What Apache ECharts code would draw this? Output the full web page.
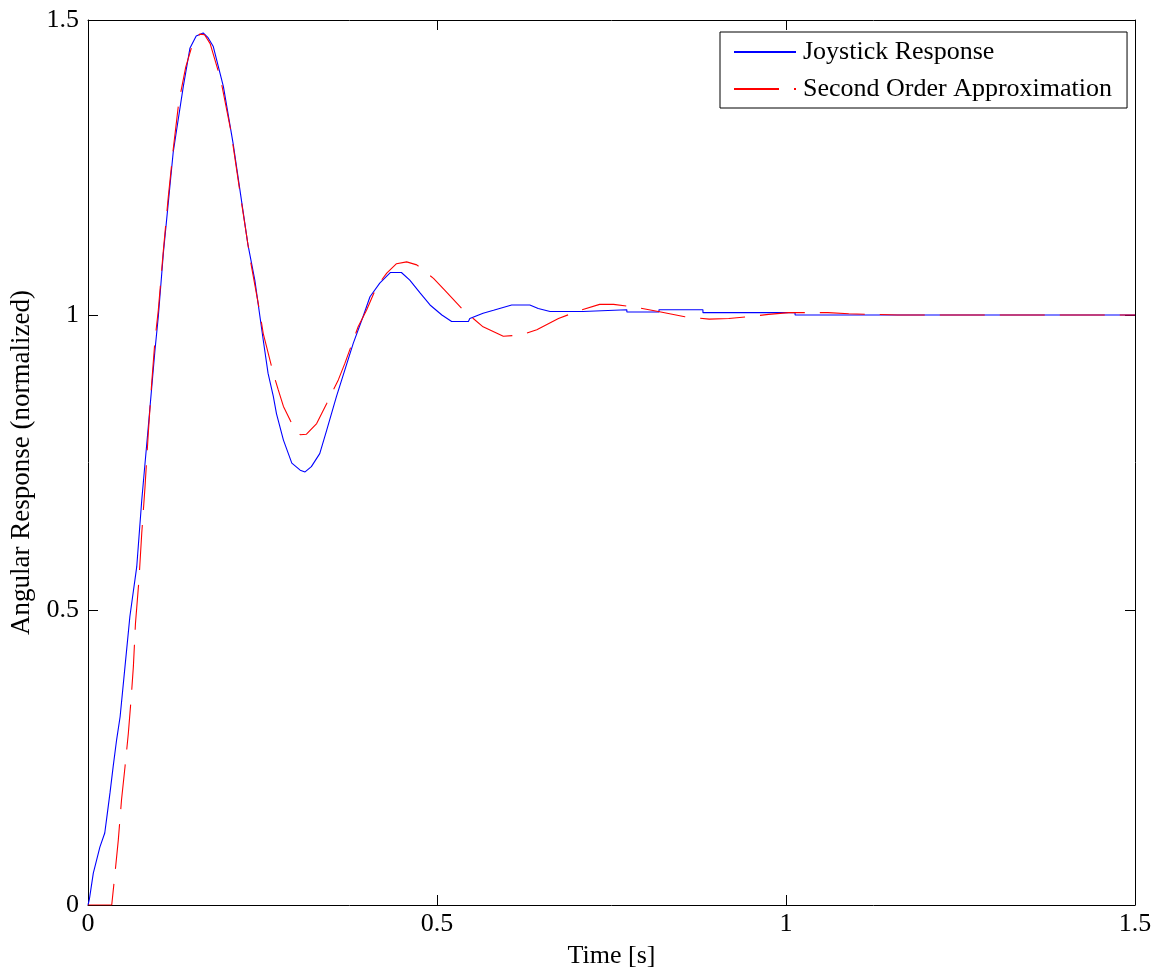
<!DOCTYPE html>
<html>
<head>
<meta charset="utf-8">
<script src="https://cdn.jsdelivr.net/npm/echarts@6/dist/echarts.min.js"></script>
<style>
  html, body { margin: 0; padding: 0; background: #fff; }
  #chart { width: 1160px; height: 977px; }
</style>
</head>
<body>
<div id="chart"></div>
<script>
// Step response of the joystick, normalized: [time (s), angle]
const joystickResponse = [
  [0, 0], [0.002, 0.01], [0.0076, 0.054], [0.017, 0.098], [0.024, 0.122], [0.027, 0.149],
  [0.0315, 0.19], [0.036, 0.234], [0.041, 0.28], [0.046, 0.319], [0.053, 0.404], [0.060, 0.489],
  [0.0698, 0.573], [0.077, 0.686], [0.0864, 0.811], [0.096, 0.941], [0.1007, 0.997], [0.108, 1.105],
  [0.115, 1.19], [0.122, 1.275], [0.127, 1.314], [0.1365, 1.387], [0.146, 1.452], [0.155, 1.473],
  [0.165, 1.478], [0.172, 1.47], [0.1795, 1.455], [0.194, 1.387], [0.208, 1.29], [0.2225, 1.173],
  [0.229, 1.12], [0.239, 1.059], [0.251, 0.958], [0.258, 0.901], [0.2655, 0.862], [0.270, 0.833],
  [0.28, 0.788], [0.292, 0.749], [0.304, 0.737], [0.311, 0.734], [0.320, 0.743], [0.332, 0.765],
  [0.342, 0.805], [0.356, 0.862], [0.368, 0.907], [0.380, 0.952], [0.394, 0.997], [0.404, 1.031],
  [0.418, 1.054], [0.433, 1.072], [0.449, 1.072], [0.461, 1.059], [0.476, 1.037], [0.490, 1.017],
  [0.507, 1.0], [0.521, 0.989], [0.545, 0.989], [0.547, 0.994], [0.566, 1.003], [0.581, 1.008],
  [0.607, 1.017], [0.633, 1.017], [0.645, 1.011], [0.662, 1.006], [0.709, 1.006], [0.709, 1.009],
  [0.772, 1.009], [0.772, 1.005], [0.818, 1.005], [0.818, 1.009], [0.881, 1.009], [0.881, 1.004],
  [1.013, 1.004], [1.013, 1.0], [1.5, 1.0]
];

// Fitted second order model with dead time: [time (s), angle]
const secondOrderApprox = [
  [0, 0], [0.034, 0], [0.0387, 0.054], [0.0434, 0.11], [0.048, 0.178], [0.053, 0.234],
  [0.0578, 0.291], [0.0616, 0.347], [0.065, 0.404], [0.068, 0.477], [0.073, 0.551], [0.077, 0.630],
  [0.0817, 0.709], [0.0864, 0.80], [0.0912, 0.884], [0.096, 0.958], [0.1007, 1.008], [0.108, 1.11],
  [0.115, 1.2], [0.122, 1.28], [0.13, 1.36], [0.14, 1.42], [0.15, 1.46], [0.16, 1.476],
  [0.167, 1.475], [0.175, 1.46], [0.19, 1.4], [0.205, 1.31], [0.22, 1.19], [0.233, 1.09],
  [0.2464, 1.003], [0.251, 0.969], [0.2655, 0.901], [0.2726, 0.873], [0.28, 0.845], [0.294, 0.811],
  [0.304, 0.797], [0.313, 0.798], [0.3276, 0.816], [0.342, 0.850], [0.3586, 0.890], [0.368, 0.918],
  [0.387, 0.980], [0.399, 1.008], [0.4136, 1.048], [0.428, 1.071], [0.442, 1.087], [0.4565, 1.090],
  [0.471, 1.085], [0.495, 1.062], [0.511, 1.042], [0.538, 1.008], [0.566, 0.980], [0.595, 0.964],
  [0.62, 0.966], [0.643, 0.975], [0.674, 0.994], [0.705, 1.008], [0.733, 1.018], [0.753, 1.018],
  [0.78, 1.014], [0.817, 1.006], [0.855, 0.997], [0.89, 0.993], [0.918, 0.994], [0.946, 0.997],
  [0.975, 1.001], [1.004, 1.004], [1.06, 1.004], [1.09, 1.002], [1.16, 1.0], [1.5, 1.0]
];

const xTicks = [0, 0.5, 1, 1.5];
const yTicks = [0, 0.5, 1, 1.5];
const seriesNames = ['Joystick Response', 'Second Order Approximation'];

const FONT = '"Liberation Serif", "Times New Roman", serif';
const black = '#000';

const tickLabel = v => String(v);

// Shared settings for the four sides of the boxed axes
const frameAxis = (extra) => Object.assign({
  type: 'value',
  min: 0,
  max: 1.5,
  interval: 0.5,
  axisLine: { show: true, onZero: false, lineStyle: { color: black, width: 1 } },
  axisTick: { show: true, inside: true, length: 10, lineStyle: { color: black, width: 1 } },
  splitLine: { show: false }
}, extra);

const chart = echarts.init(document.getElementById('chart'), null, { renderer: 'canvas' });

chart.setOption({
  animation: false,
  backgroundColor: '#fff',
  textStyle: { fontFamily: FONT, color: black },
  grid: { left: 88, right: 25, top: 20, bottom: 72, containLabel: false },
  legend: {
    orient: 'vertical',
    left: 720,
    top: 32,
    padding: [7, 15, 6, 13],
    itemWidth: 62,
    itemHeight: 26,
    itemGap: 11,
    borderColor: black,
    borderWidth: 1,
    borderRadius: 0,
    backgroundColor: '#fff',
    // only the line sample is shown in front of each entry
    itemStyle: { opacity: 0, borderWidth: 0 },
    textStyle: { fontFamily: FONT, fontSize: 26, color: black, padding: [0, 0, 0, 2] },
    data: seriesNames
  },
  xAxis: [
    frameAxis({
      position: 'bottom',
      name: 'Time [s]',
      nameLocation: 'middle',
      nameGap: 38,
      nameTextStyle: { fontFamily: FONT, fontSize: 26, color: black },
      axisLabel: {
        fontFamily: FONT, fontSize: 26, color: black, margin: 6,
        showMinLabel: true, showMaxLabel: true,
        formatter: v => xTicks.includes(v) ? tickLabel(v) : ''
      }
    }),
    frameAxis({ position: 'top', axisLabel: { show: false } })
  ],
  yAxis: [
    frameAxis({
      position: 'left',
      name: 'Angular Response (normalized)',
      nameLocation: 'middle',
      nameGap: 52,
      nameTextStyle: { fontFamily: FONT, fontSize: 27, color: black },
      axisLabel: {
        fontFamily: FONT, fontSize: 26, color: black, margin: 9,
        showMinLabel: true, showMaxLabel: true,
        formatter: v => yTicks.includes(v) ? tickLabel(v) : ''
      }
    }),
    frameAxis({ position: 'right', axisLabel: { show: false } })
  ],
  series: [
    {
      name: seriesNames[0],
      type: 'line',
      xAxisIndex: 0,
      yAxisIndex: 0,
      data: joystickResponse,
      symbol: 'none',
      showSymbol: false,
      smooth: false,
      clip: true,
      lineStyle: { color: '#0000ff', width: 1.1 },
      itemStyle: { color: '#0000ff' }
    },
    {
      name: seriesNames[1],
      type: 'line',
      xAxisIndex: 0,
      yAxisIndex: 0,
      data: secondOrderApprox,
      symbol: 'none',
      showSymbol: false,
      smooth: false,
      clip: true,
      lineStyle: { color: '#ff0000', width: 1.1, type: [45, 15] },
      itemStyle: { color: '#ff0000' }
    }
  ]
});
</script>
</body>
</html>
